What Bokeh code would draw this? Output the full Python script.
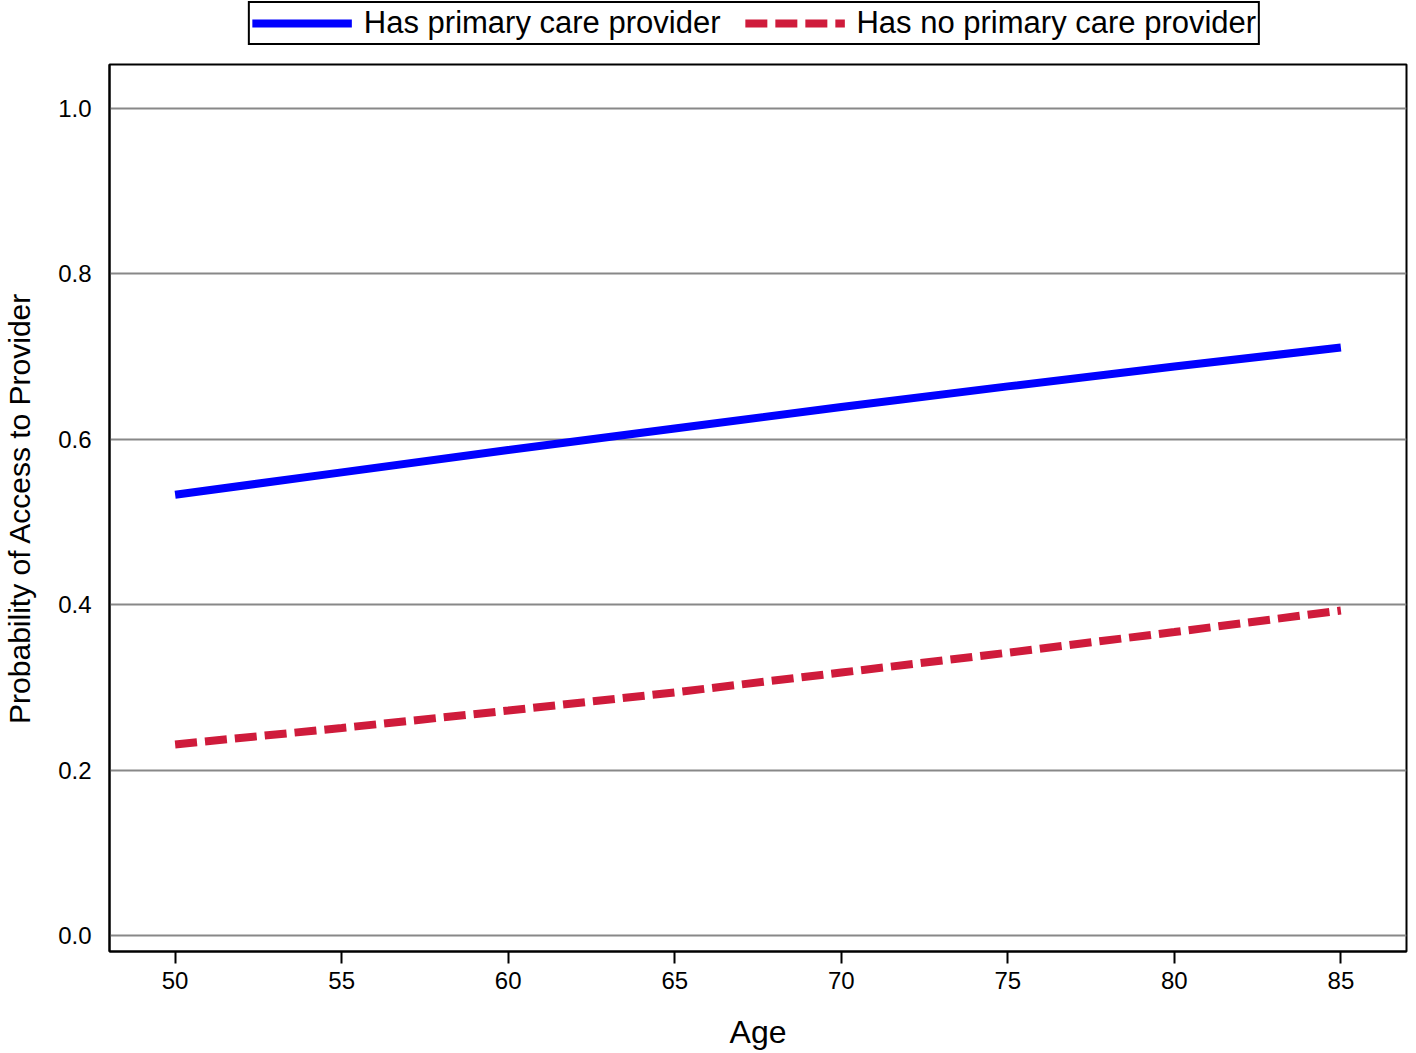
from bokeh.plotting import figure
from bokeh.layouts import column, row
from bokeh.models import Legend, LegendItem, FixedTicker, Range1d, CustomJSTickFormatter, Spacer
from bokeh.embed import file_html
from bokeh.resources import INLINE

ages = [50, 55, 60, 65, 70, 75, 80, 85]
has_pcp = [0.533, 0.560, 0.587, 0.613, 0.639, 0.664, 0.688, 0.711]
no_pcp = [0.231, 0.251, 0.272, 0.294, 0.318, 0.342, 0.367, 0.393]
x_ticks = [50, 55, 60, 65, 70, 75, 80, 85]
y_ticks = [0.0, 0.2, 0.4, 0.6, 0.8, 1.0]
series_names = ["Has primary care provider", "Has no primary care provider"]

FONT = "Liberation Sans"
BLUE = "#0000FF"
RED = "#CF1B3B"
DASH = "22 8"
FRAME_W, FRAME_H = 1297, 887
LEG_H = 48

# ---------------- main plot ----------------
p = figure(frame_width=FRAME_W, frame_height=FRAME_H,
           x_range=Range1d(48.03, 86.97), y_range=Range1d(-0.0193, 1.0532),
           output_backend="svg", toolbar_location=None,
           min_border_left=101, min_border_right=2,
           min_border_top=16, min_border_bottom=86)

p.background_fill_color = "white"
p.border_fill_color = "white"
p.outline_line_color = "black"
p.outline_line_width = 2
p.outline_line_alpha = 1

p.line(ages, has_pcp, line_color=BLUE, line_width=8)
p.line(ages, no_pcp, line_color=RED, line_width=8, line_dash=DASH)

p.xgrid.grid_line_color = None
p.ygrid.grid_line_color = "#888888"
p.ygrid.grid_line_width = 2
p.ygrid.ticker = FixedTicker(ticks=y_ticks)

p.xaxis.ticker = FixedTicker(ticks=x_ticks)
p.xaxis.axis_label = "Age"
p.xaxis.axis_label_text_font = FONT
p.xaxis.axis_label_text_font_size = "32px"
p.xaxis.axis_label_text_font_style = "normal"
p.xaxis.axis_label_text_color = "black"
p.xaxis.axis_label_standoff = 22
p.xaxis.major_label_text_font = FONT
p.xaxis.major_label_text_font_size = "24px"
p.xaxis.major_label_text_color = "black"
p.xaxis.major_label_standoff = 8
p.xaxis.major_tick_out = 12
p.xaxis.major_tick_in = 0
p.xaxis.major_tick_line_width = 2
p.xaxis.major_tick_line_color = "black"
p.xaxis.minor_tick_line_color = None
p.xaxis.axis_line_width = 2
p.xaxis.axis_line_color = "black"

p.yaxis.ticker = FixedTicker(ticks=y_ticks)
p.yaxis.axis_label = "Probability of Access to Provider"
p.yaxis.axis_label_text_font = FONT
p.yaxis.axis_label_text_font_size = "30px"
p.yaxis.axis_label_text_font_style = "normal"
p.yaxis.axis_label_text_color = "black"
p.yaxis.axis_label_standoff = 19
p.yaxis.major_label_text_font = FONT
p.yaxis.major_label_text_font_size = "24px"
p.yaxis.major_label_text_color = "black"
p.yaxis.major_label_standoff = 12
p.yaxis.major_tick_line_color = None
p.yaxis.minor_tick_line_color = None
p.yaxis.axis_line_width = 2
p.yaxis.axis_line_color = "black"
p.yaxis.formatter = CustomJSTickFormatter(code="return tick.toFixed(1);")

# ---------------- legend strip, centred over the plot frame ----------------
lg = figure(width=1292, height=LEG_H,
            x_range=Range1d(0, 1), y_range=Range1d(0, 1),
            x_axis_type=None, y_axis_type=None,
            output_backend="svg", toolbar_location=None,
            min_border_left=0, min_border_right=0,
            min_border_top=0, min_border_bottom=0)
lg.outline_line_color = None
lg.xgrid.grid_line_color = None
lg.ygrid.grid_line_color = None
# same data series; they fall outside this strip's view, only their legend glyphs show
l1 = lg.line(ages, has_pcp, line_color=BLUE, line_width=8)
l2 = lg.line(ages, no_pcp, line_color=RED, line_width=8, line_dash=DASH)

legend = Legend(items=[LegendItem(label=series_names[0], renderers=[l1]),
                       LegendItem(label=series_names[1], renderers=[l2])],
                orientation="horizontal", location="top_center")
legend.label_text_font = FONT
legend.label_text_font_size = "31px"
legend.label_text_color = "black"
legend.glyph_width = 100
legend.glyph_height = 28
legend.label_standoff = 12
legend.spacing = 24
legend.padding = 2
legend.margin = 1
legend.border_line_color = "black"
legend.border_line_width = 2
legend.border_line_alpha = 1
legend.background_fill_alpha = 1
lg.add_layout(legend, "center")

top = row(Spacer(width=108, height=LEG_H), lg, spacing=0)
layout = column(top, p, spacing=0)
open("out.html", "w").write(file_html(layout, INLINE))
